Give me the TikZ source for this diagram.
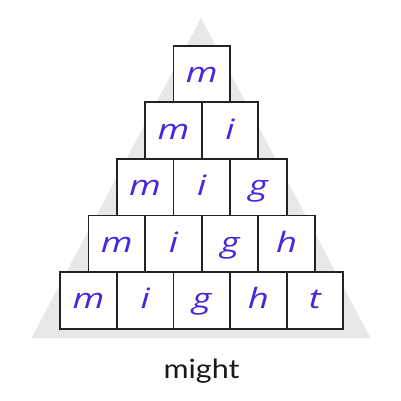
\documentclass[tikz,border=0pt]{standalone}
\usepackage{fontspec}
\setmainfont{Lato}[FakeStretch=1.15]
\newfontfamily\handfont{Open Sans}[FakeStretch=1.3]
\definecolor{letterblue}{RGB}{70,40,220}
\definecolor{trigray}{RGB}{232,232,232}
\definecolor{boxline}{RGB}{34,34,34}
\tikzset{
  letterbox/.style={draw=boxline, line width=1.8pt, fill=white, minimum size=56.6pt, inner sep=0pt,
    text height=20pt, text depth=3pt, text=letterblue, font=\handfont\itshape\fontsize{28}{28}\selectfont},
  wordlabel/.style={font=\fontsize{26.5}{26.5}\selectfont, text=black!90}
}
\begin{document}
\begin{tikzpicture}[x=1pt,y=-1pt]
\useasboundingbox (0,0) rectangle (400,401);
\fill[white] (0,0) rectangle (400,401);
\fill[trigray] (31.5,338) -- (201,18) -- (370.5,338) -- cycle;
\def\s{56.6}
\foreach \r/\word in {0/{m},1/{m,i},2/{m,i,g},3/{m,i,g,h},4/{m,i,g,h,t}}{
  \foreach \ch [count=\c from 0] in \word {
    \pgfmathsetmacro{\xx}{201.7-(\r+1)*\s/2+(\c+0.5)*\s}
    \pgfmathsetmacro{\yy}{45.7+(\r+0.5)*\s}
    \node[letterbox] (b-\r-\c) at (\xx,\yy) {\ch};
  }
}
\node[wordlabel, anchor=base] (word) at (201.5,378.5) {might};
\end{tikzpicture}
\end{document}
